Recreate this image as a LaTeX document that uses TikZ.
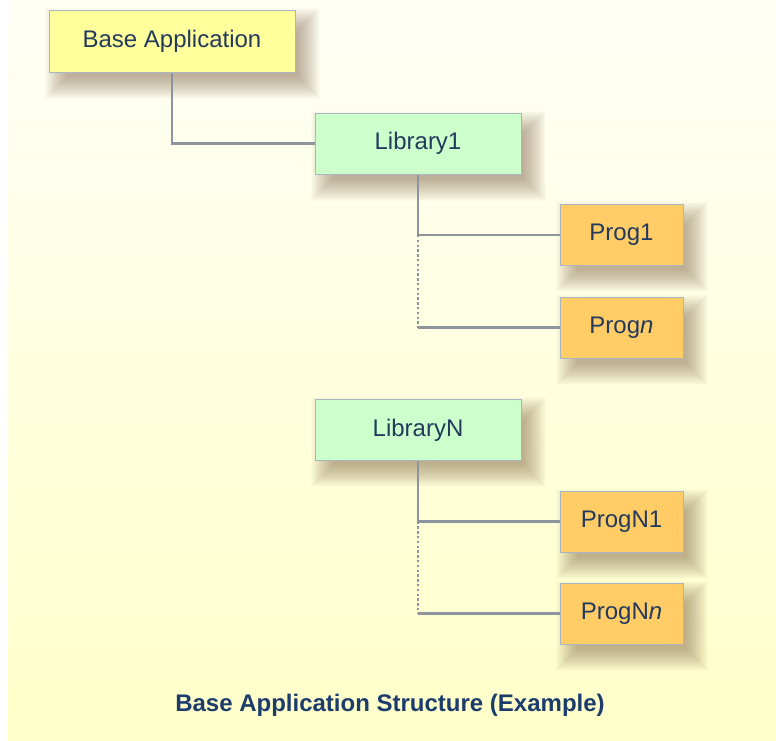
\documentclass[tikz,border=0pt]{standalone}
\usepackage{fontspec}
\setmainfont{Liberation Sans}
\usetikzlibrary{calc}
\pgfdeclarelayer{bg}
\pgfdeclarelayer{shadowlayer}
\pgfsetlayers{bg,shadowlayer,main}
\definecolor{txtcol}{HTML}{243A5C}
\definecolor{capcol}{HTML}{1C3C6C}
\definecolor{linecol}{HTML}{8C949E}
\definecolor{boxborder}{HTML}{A9B6C2}
\definecolor{yelfill}{HTML}{FFFF9C}
\definecolor{grnfill}{HTML}{CCFFCC}
\definecolor{orgfill}{HTML}{FFCC66}
\definecolor{shcol}{HTML}{7A5A3C}
\definecolor{bgtop}{HTML}{FFFFF6}
\definecolor{bgbot}{HTML}{FFFFC9}
\tikzset{
  boxbase/.style={draw=boxborder, line width=1pt, inner sep=0pt, text=txtcol,
    font=\fontsize{24}{28}\selectfont},
  appbox/.style={boxbase, fill=yelfill, minimum width=246pt, minimum height=62pt},
  libbox/.style={boxbase, fill=grnfill, minimum width=206pt, minimum height=61pt},
  progbox/.style={boxbase, fill=orgfill, minimum width=123pt, minimum height=61pt},
  conn/.style={draw=linecol, line width=2.6pt},
  dotconn/.style={draw=linecol, line width=2.6pt, dash pattern=on 2.4pt off 2.4pt},
  captext/.style={text=capcol, font=\fontsize{24}{28}\selectfont\bfseries}
}
\newcommand{\softshadow}[1]{%
  \foreach \e in {14,13,...,-8}{%
    \fill[shcol, opacity=0.022]
      ([xshift={10pt-\e pt}, yshift={-12pt+\e pt}]#1.north west)
      rectangle ([xshift={10pt+\e pt}, yshift={-12pt-\e pt}]#1.south east);
  }%
}
\begin{document}
\begin{tikzpicture}[x=1pt, y=-1pt]
\useasboundingbox (0,0) rectangle (776,740);
\begin{pgfonlayer}{bg}
  \fill[white] (0,0) rectangle (776,740);
  \shade[top color=bgtop, bottom color=bgbot] (8,0) rectangle (776,740);
\end{pgfonlayer}

\node[appbox]  (base)   at (172,41)    {Base Application};
\node[libbox]  (lib1)   at (418,143.5) {Library1};
\node[progbox] (prog1)  at (621.5,235) {Prog1};
\node[progbox] (progn)  at (621.5,327.5) {Prog\textit{n}};
\node[libbox]  (libN)   at (418,430)   {LibraryN};
\node[progbox] (progN1) at (621.5,521.5) {ProgN1};
\node[progbox] (progNn) at (621.5,613.5) {ProgN\textit{n}};

\node[captext] (cap) at (390,705) {Base Application Structure (Example)};

\begin{pgfonlayer}{shadowlayer}
  \softshadow{base}
  \softshadow{lib1}
  \softshadow{prog1}
  \softshadow{progn}
  \softshadow{libN}
  \softshadow{progN1}
  \softshadow{progNn}
\end{pgfonlayer}

\coordinate (c1) at (lib1.south |- prog1.west);
\coordinate (c2) at (lib1.south |- progn.west);
\coordinate (c3) at (libN.south |- progN1.west);
\coordinate (c4) at (libN.south |- progNn.west);

\draw[conn] (base.south) -- (base.south |- lib1.west) -- (lib1.west);
\draw[conn] (lib1.south) -- (c1) -- (prog1.west);
\draw[dotconn] (c1) -- (c2);
\draw[conn] (c2) -- (progn.west);
\draw[conn] (libN.south) -- (c3) -- (progN1.west);
\draw[dotconn] (c3) -- (c4);
\draw[conn] (c4) -- (progNn.west);
\end{tikzpicture}
\end{document}
